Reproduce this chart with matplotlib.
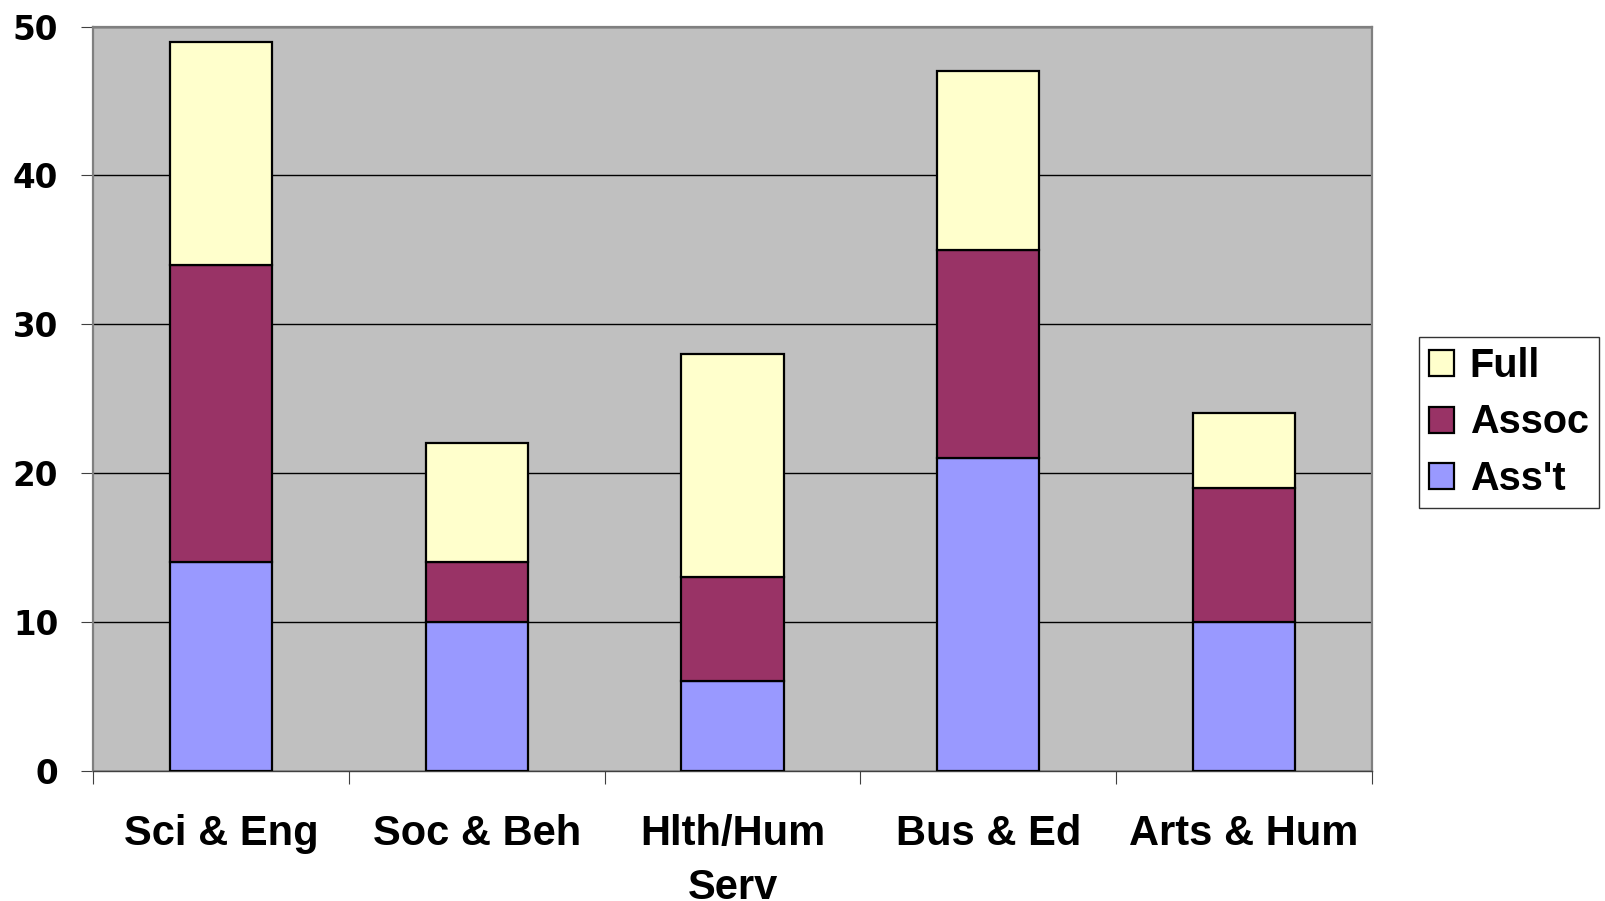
import matplotlib.pyplot as plt
import numpy as np

plt.rcParams['font.family'] = ['Liberation Sans', 'DejaVu Sans']
plt.rcParams['font.weight'] = 'bold'

categories = ['Sci & Eng', 'Soc & Beh', 'Hlth/Hum\nServ', 'Bus & Ed', 'Arts & Hum']
asst = [14, 10, 6, 21, 10]
assoc = [20, 4, 7, 14, 9]
full = [15, 8, 15, 12, 5]

series = [("Ass't", asst, '#9999FF'),
          ('Assoc', assoc, '#993366'),
          ('Full', full, '#FFFFCC')]


def main():
    fig = plt.figure(figsize=(16.06, 9.01), dpi=100)
    ax = fig.add_axes([0.0579, 0.1448, 0.7964, 0.8256])
    ax.set_facecolor('#C0C0C0')

    x = np.arange(len(categories)) + 0.5
    bottom = np.zeros(len(categories))
    bars = {}
    for name, vals, color in series:
        bars[name] = ax.bar(x, vals, width=0.4, bottom=bottom, color=color,
                            edgecolor='black', linewidth=1.6, label=name,
                            zorder=3)
        bottom += np.array(vals)

    ax.set_xlim(0, len(categories))
    ax.set_ylim(0, 50)
    ax.set_yticks(range(0, 51, 10))
    ax.yaxis.grid(True, color='black', linewidth=1.0, zorder=1)
    ax.set_axisbelow(True)

    # category boundaries get the tick marks, labels sit in between
    ax.set_xticks(range(len(categories) + 1))
    ax.set_xticklabels([])
    ax.set_xticks(x, minor=True)
    ax.set_xticklabels(categories, minor=True, fontsize=30,
                       fontweight='bold', linespacing=1.45)
    ax.tick_params(axis='x', which='minor', length=0, pad=31)
    ax.tick_params(axis='x', which='major', length=9, color='#404040')
    ax.tick_params(axis='y', length=9, color='#404040', pad=16)
    for lbl in ax.get_yticklabels():
        lbl.set_fontfamily('DejaVu Sans')
        lbl.set_fontsize(23.5)
        lbl.set_fontweight('bold')

    for s in ax.spines.values():
        s.set_color('#808080')
        s.set_linewidth(1.6)
    ax.spines['bottom'].set_color('#404040')
    ax.spines['bottom'].set_linewidth(1.0)

    handles = [bars['Full'], bars['Assoc'], bars["Ass't"]]
    leg = ax.legend(handles, ['Full', 'Assoc', "Ass't"],
                    loc='upper left', bbox_to_anchor=(0.8836, 0.626),
                    bbox_transform=fig.transFigure,
                    prop={'weight': 'bold', 'size': 28.5},
                    frameon=True, fancybox=False, edgecolor='black',
                    handlelength=0.63, handleheight=0.63,
                    handletextpad=0.4, labelspacing=0.47,
                    borderpad=0.25, borderaxespad=0)
    leg.get_frame().set_linewidth(1.0)

    fig.savefig('out.png', dpi=100)


if __name__ == '__main__':
    main()
